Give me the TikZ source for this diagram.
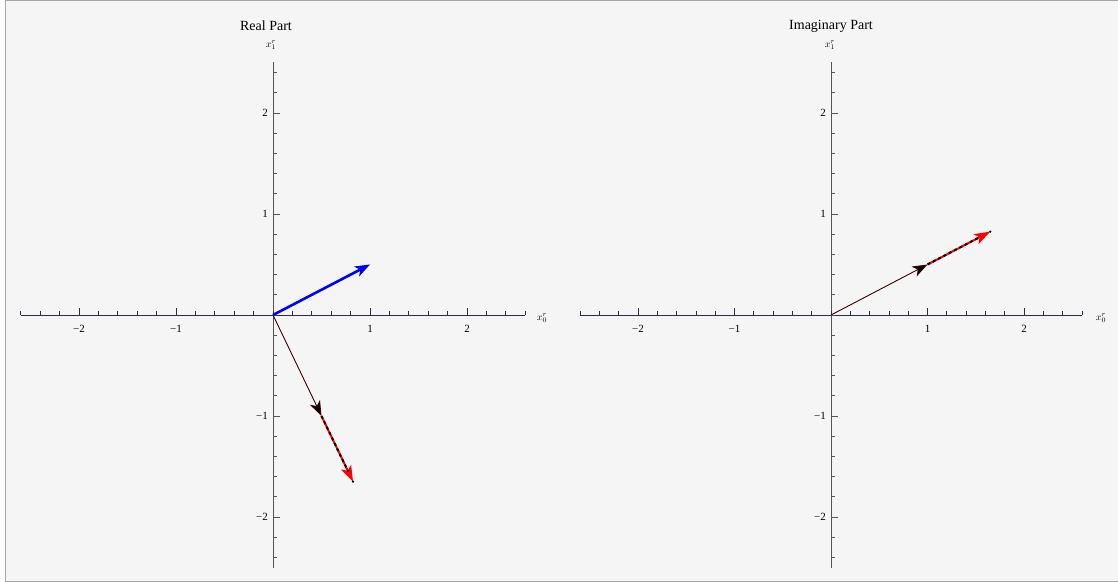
\documentclass[tikz,border=0pt]{standalone}
\usepackage{fontspec}
\setmainfont{Liberation Serif}
\usetikzlibrary{arrows.meta}
\definecolor{panel}{HTML}{F5F5F5}
\definecolor{framecol}{HTML}{A6A6A6}
\definecolor{xaxiscol}{HTML}{2C2C48}
\definecolor{yaxiscol}{HTML}{555555}
\definecolor{darkvec}{HTML}{3A0000}
\tikzstyle{xaxis}=[draw=xaxiscol, line width=1pt]
\tikzstyle{yaxis}=[draw=yaxiscol, line width=1pt]
\tikzstyle{ticklab}=[font=\fontsize{11}{12}\selectfont, inner sep=0pt]
\tikzstyle{axlab}=[font=\fontsize{10}{11}\selectfont, inner sep=0pt]
\tikzstyle{title}=[font=\fontsize{14}{15}\selectfont, inner sep=0pt]
\tikzstyle{bluevec}=[draw=blue, line width=2.6pt, -{Stealth[length=15pt,width=11pt,inset=4pt]}]
\tikzstyle{thinvec}=[draw=darkvec, line width=0.9pt, -{Stealth[length=15pt,width=11pt,inset=4pt,fill=black]}]
\tikzstyle{redvec}=[draw=red, line width=2pt, -{Stealth[length=16pt,width=11pt,inset=4pt]}]
\tikzstyle{dashover}=[draw=black, line width=2pt, dash pattern=on 3pt off 3pt, shorten >=11pt]

\begin{document}
\begin{tikzpicture}[x=1pt,y=-1pt]
\useasboundingbox (0,0) rectangle (1118,583);
\fill[white] (0,0) rectangle (1118,583);
\draw[framecol, fill=panel, line width=1pt] (5.5,0.5) rectangle (1118.5,581);

% real part
\node[title] (ttlre) at (266,26) {Real Part};
\node[axlab] (yre) at (271,45) {$x_1^r$};
\node[axlab] (xre) at (542,318) {$x_0^r$};
\begin{scope}[shift={(273,315)}, x=97pt, y=101pt]
  \coordinate (reO) at (0,0);
  \coordinate (reL) at (-2.6,0);
  \coordinate (reR) at (2.6,0);
  \coordinate (reB) at (0,-2.5);
  \coordinate (reT) at (0,2.5);
  \draw[xaxis] (reL) -- (reR);
  \draw[yaxis] (reB) -- (reT);
  \foreach \i in {-13,...,13} \draw[xaxis, line width=0.8pt] (\i/5,0) -- ++(0,4pt);
  \foreach \i in {-12,...,12} \draw[yaxis, line width=0.8pt] (0,\i/5) -- ++(4pt,0);
  \foreach \t/\l in {-2/−2,-1/−1,1/1,2/2} {
    \draw[xaxis, line width=0.8pt] (\t,0) -- ++(0,7pt);
    \draw[yaxis, line width=0.8pt] (0,\t) -- ++(7pt,0);
    \node[ticklab] at ([yshift=-14pt]\t,0) {\l};
    \node[ticklab, anchor=east] at ([xshift=-5pt]0,\t) {\l};
  }
  \coordinate (reA) at (1,0.5);
  \coordinate (reM) at (0.5,-1);
  \coordinate (reE) at (0.825,-1.65);
  \draw[bluevec] (reO) -- (reA);
  \draw[redvec] (reM) -- (reE);
  \draw[dashover] (reM) -- (reE);
  \draw[thinvec] (reO) -- (reM);
  \fill (reE) circle (1.3pt);
\end{scope}

% imaginary part
\node[title] (ttlim) at (831,26) {Imaginary Part};
\node[axlab] (yim) at (830,45) {$x_1^r$};
\node[axlab] (xim) at (1101,318) {$x_0^r$};
\begin{scope}[shift={(831,315)}, x=96.5pt, y=101pt]
  \coordinate (imO) at (0,0);
  \coordinate (imL) at (-2.6,0);
  \coordinate (imR) at (2.6,0);
  \coordinate (imB) at (0,-2.5);
  \coordinate (imT) at (0,2.5);
  \draw[xaxis] (imL) -- (imR);
  \draw[yaxis] (imB) -- (imT);
  \foreach \i in {-13,...,13} \draw[xaxis, line width=0.8pt] (\i/5,0) -- ++(0,4pt);
  \foreach \i in {-12,...,12} \draw[yaxis, line width=0.8pt] (0,\i/5) -- ++(4pt,0);
  \foreach \t/\l in {-2/−2,-1/−1,1/1,2/2} {
    \draw[xaxis, line width=0.8pt] (\t,0) -- ++(0,7pt);
    \draw[yaxis, line width=0.8pt] (0,\t) -- ++(7pt,0);
    \node[ticklab] at ([yshift=-14pt]\t,0) {\l};
    \node[ticklab, anchor=east] at ([xshift=-5pt]0,\t) {\l};
  }
  \coordinate (imM) at (1,0.5);
  \coordinate (imE) at (1.65,0.825);
  \draw[redvec] (imM) -- (imE);
  \draw[dashover] (imM) -- (imE);
  \draw[thinvec] (imO) -- (imM);
  \fill (imE) circle (1.3pt);
\end{scope}
\end{tikzpicture}
\end{document}
